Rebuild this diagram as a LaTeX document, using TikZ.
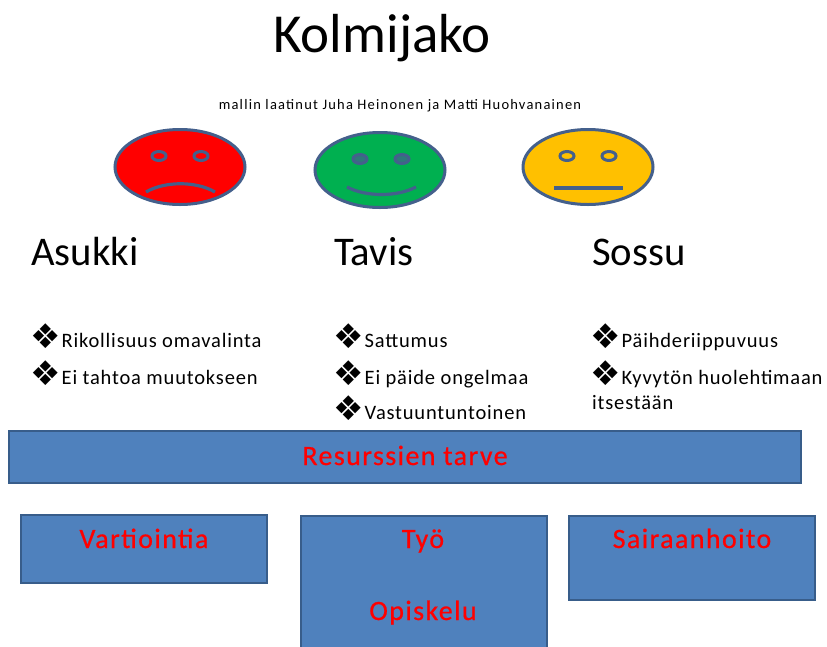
\documentclass[tikz,border=0pt]{standalone}
\usepackage{fontspec}
\usetikzlibrary{shapes.geometric}
\setmainfont{Carlito}
\newfontfamily\dej{DejaVu Sans}
\definecolor{boxblue}{HTML}{4F81BD}
\definecolor{boxedge}{HTML}{385D8A}
\definecolor{faceedge}{HTML}{44608C}
\definecolor{facered}{HTML}{FF0000}
\definecolor{facegreen}{HTML}{00B050}
\definecolor{faceyellow}{HTML}{FFC000}
\newcommand{\bul}{\raisebox{-1.5pt}[0pt][0pt]{\dej\fontsize{34}{34}\selectfont\hspace{-3pt}❖\hspace{1pt}}}
\tikzset{
  x=1pt,y=-1pt,
  face/.style={draw=faceedge,line width=3pt,ellipse,minimum width=130pt,minimum height=75pt,inner sep=0pt},
  eye/.style={draw=faceedge,line width=3pt,ellipse,minimum width=14pt,minimum height=9pt,inner sep=0pt},
  mouth/.style={draw=faceedge,line width=3.2pt},
  bluebox/.style={draw=boxedge,line width=2.4pt,fill=boxblue,inner sep=0pt},
  boxlabel/.style={anchor=base,inner sep=0pt,text=red,font=\fontsize{28}{28}\selectfont\addfontfeature{LetterSpace=5,FakeBold=0.6}},
  heading/.style={anchor=base west,inner sep=0pt,font=\fontsize{40.7}{41}\selectfont},
  item/.style={anchor=base west,inner sep=0pt,font=\fontsize{20.5}{24}\selectfont},
}
\begin{document}
\begin{tikzpicture}
\useasboundingbox (0,0) rectangle (827,646);
\fill[white] (0,0) rectangle (827,646);
\node[anchor=base,inner sep=0pt,font=\fontsize{55}{55}\selectfont] (title) at (382,52.5) {Kolmijako};
\node[anchor=base,inner sep=0pt,font=\fontsize{14.5}{15}\selectfont] (sub) at (400,109) {\addfontfeature{LetterSpace=8.4}mallin laatinut Juha Heinonen ja Matti Huohvanainen};
% faces
\node[face,fill=facered] (f1) at (180,167) {};
\node[eye] (e11) at (159,156) {};
\node[eye] (e12) at (201,156) {};
\coordinate (m1a) at (146,192);
\coordinate (m1b) at (215,192);
\draw[mouth] (m1a) .. controls (165,181) and (196,181) .. (m1b);
\node[face,fill=facegreen] (f2) at (380,170) {};
\node[eye,fill=faceedge!70!facegreen] (e21) at (360,159) {};
\node[eye,fill=faceedge!70!facegreen] (e22) at (402,159) {};
\coordinate (m2a) at (347,187);
\coordinate (m2b) at (416,187);
\draw[mouth] (m2a) .. controls (366,197) and (397,197) .. (m2b);
\node[face,fill=faceyellow] (f3) at (588,167) {};
\node[eye] (e31) at (567,156) {};
\node[eye] (e32) at (609,156) {};
\coordinate (m3a) at (554,188);
\coordinate (m3b) at (623,188);
\draw[mouth] (m3a) -- (m3b);
% headings
\node[heading] (h1) at (31,265) {Asukki};
\node[heading] (h2) at (334,265) {Tavis};
\node[heading] (h3) at (592,265) {Sossu};
% lists
\node[item] (a1) at (33,347) {\bul\addfontfeature{LetterSpace=4}Rikollisuus omavalinta};
\node[item] (a2) at (33,384) {\bul\addfontfeature{LetterSpace=4}Ei tahtoa muutokseen};
\node[item] (b1) at (336,347) {\bul\addfontfeature{LetterSpace=4}Sattumus};
\node[item] (b2) at (336,384) {\bul\addfontfeature{LetterSpace=4}Ei päide ongelmaa};
\node[item] (b3) at (336,419) {\bul\addfontfeature{LetterSpace=4}Vastuuntuntoinen};
\node[item] (c1) at (593,347) {\bul\addfontfeature{LetterSpace=4}Päihderiippuvuus};
\node[item] (c2) at (593,384) {\bul\addfontfeature{LetterSpace=4}Kyvytön huolehtimaan};
\node[item] (c3) at (592,409) {\addfontfeature{LetterSpace=4}itsestään};
% boxes
\node[bluebox,minimum width=792pt,minimum height=52pt] (r) at (405,457) {};
\node[boxlabel] (rt) at (405,465) {Resurssien tarve};
\node[bluebox,minimum width=246pt,minimum height=68pt] (v) at (144,549) {};
\node[boxlabel] (vt) at (144,548) {Vartiointia};
\draw[draw=boxedge,line width=2.4pt,fill=boxblue] (301,516) rectangle (547,660);
\node[boxlabel] (tt) at (423,548) {Työ};
\node[boxlabel] (ot) at (423,620) {Opiskelu};
\node[bluebox,minimum width=246pt,minimum height=84pt] (s) at (692,558) {};
\node[boxlabel] (st) at (692,548) {Sairaanhoito};
\end{tikzpicture}
\end{document}
